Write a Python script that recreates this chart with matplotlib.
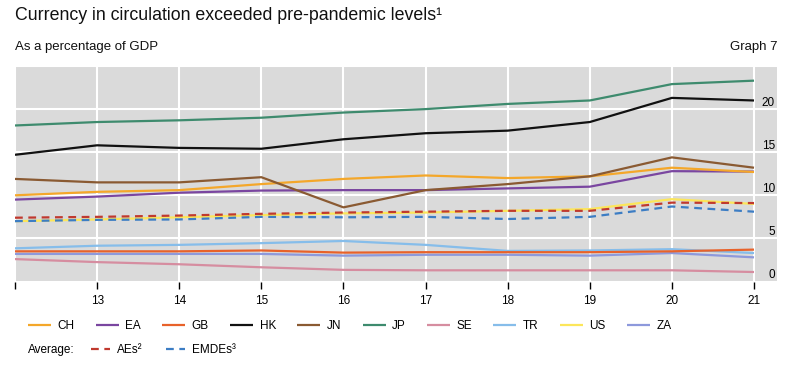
import matplotlib
matplotlib.use("Agg")
import matplotlib.pyplot as plt
import matplotlib.transforms as mtransforms

plt.rcParams['font.family'] = ['Liberation Sans', 'DejaVu Sans']

years = [12, 13, 14, 15, 16, 17, 18, 19, 20, 21]
xtick_labels = ['', '13', '14', '15', '16', '17', '18', '19', '20', '21']

CH = [10.0, 10.4, 10.6, 11.3, 11.9, 12.3, 12.0, 12.2, 13.2, 12.7]
EA = [9.5, 9.85, 10.3, 10.55, 10.6, 10.6, 10.8, 11.0, 12.8, 12.75]
GB = [3.5, 3.5, 3.5, 3.6, 3.35, 3.4, 3.4, 3.4, 3.5, 3.7]
HK = [14.7, 15.8, 15.5, 15.4, 16.5, 17.2, 17.5, 18.5, 21.3, 21.0]
JN = [11.9, 11.5, 11.5, 12.1, 8.6, 10.6, 11.3, 12.2, 14.4, 13.2]
JP = [18.1, 18.5, 18.7, 19.0, 19.6, 20.0, 20.6, 21.0, 22.9, 23.3]
SE = [2.6, 2.25, 2.0, 1.65, 1.35, 1.3, 1.3, 1.3, 1.3, 1.1]
TR = [3.85, 4.15, 4.25, 4.45, 4.7, 4.25, 3.55, 3.6, 3.75, 3.3]
US = [7.0, 7.2, 7.45, 7.7, 7.9, 8.0, 8.2, 8.4, 9.55, 9.0]
ZA = [3.2, 3.2, 3.2, 3.2, 3.0, 3.1, 3.1, 3.0, 3.3, 2.8]
AEs = [7.4, 7.5, 7.65, 7.85, 8.0, 8.1, 8.2, 8.2, 9.15, 9.1]
EMDEs = [7.0, 7.15, 7.2, 7.5, 7.45, 7.5, 7.25, 7.5, 8.7, 8.1]

yticks = [0, 5, 10, 15, 20, 25]
ytick_labels = ['0', '5', '10', '15', '20', '']

countries = [
    ('CH', CH, '#F4A72A'),
    ('EA', EA, '#7A46A0'),
    ('GB', GB, '#E8622A'),
    ('HK', HK, '#111111'),
    ('JN', JN, '#8A5A32'),
    ('JP', JP, '#3E8B6E'),
    ('SE', SE, '#D68DA0'),
    ('TR', TR, '#86BDEA'),
    ('US', US, '#FCE65A'),
    ('ZA', ZA, '#8D99DC'),
]
averages = [
    ('AEs²', AEs, '#C0392E'),
    ('EMDEs³', EMDEs, '#3C7DC4'),
]

W, H = 810, 366
fig = plt.figure(figsize=(W / 100, H / 100), dpi=100)
ax = fig.add_axes([15 / W, 1 - 281.5 / H, (777 - 15) / W, (281.5 - 66) / H])
ax.set_facecolor('#DADADA')
for s in ax.spines.values():
    s.set_visible(False)

draw_order = ['SE', 'ZA', 'TR', 'GB', 'US', 'EA', 'CH', 'JN', 'JP', 'HK']
handles = {}
for name, vals, col in countries:
    z = 2 + draw_order.index(name) * 0.1
    ln, = ax.plot(years, vals, color=col, lw=1.6, zorder=z, solid_capstyle='butt')
    handles[name] = ln
avg_handles = []
for name, vals, col in averages:
    ln, = ax.plot(years, vals, color=col, lw=1.6, ls=(0, (3.5, 2.5)), zorder=4)
    avg_handles.append(ln)

ax.set_xlim(12, 21.28)
ax.set_ylim(0, 25)
ax.set_xticks(years)
ax.set_xticklabels(xtick_labels)
ax.set_yticks(yticks)
ax.set_yticklabels(ytick_labels)
ax.grid(True, color='white', lw=1.5, zorder=1)
ax.set_axisbelow(True)

ax.tick_params(axis='x', direction='out', length=5, width=1, color='black',
               pad=5, labelsize=8.5, labelcolor='black')
ax.tick_params(axis='y', length=0, left=False, right=False, labelleft=False,
               labelright=True, pad=-1.5, labelsize=8.5)
off = mtransforms.ScaledTranslation(0, 8 / 100, fig.dpi_scale_trans)
for t in ax.get_yticklabels():
    t.set_horizontalalignment('right')
    t.set_transform(t.get_transform() + off)

# Titles
fig.text(15 / W, 1 - 15 / H, 'Currency in circulation exceeded pre-pandemic levels¹',
         fontsize=12.8, va='center', ha='left', color='#111111')
fig.text(15 / W, 1 - 47 / H, 'As a percentage of GDP', fontsize=9.5,
         va='center', ha='left', color='#111111')
fig.text(778 / W, 1 - 47 / H, 'Graph 7', fontsize=9.5, va='center', ha='right',
         color='#111111')

# Legend row 1
leg1 = fig.legend([handles[n] for n, _, _ in countries], [n for n, _, _ in countries],
                  loc='center left', bbox_to_anchor=(28 / W, 1 - 326 / H), ncol=10,
                  frameon=False, fontsize=8.5, handlelength=1.95, handletextpad=0.55,
                  columnspacing=1.8, borderaxespad=0, borderpad=0)
# Legend row 2
fig.text(28 / W, 1 - 350 / H, 'Average:', fontsize=8.5, va='center', ha='left')
leg2 = fig.legend(avg_handles, [n for n, _, _ in averages],
                  loc='center left', bbox_to_anchor=(91 / W, 1 - 350 / H), ncol=2,
                  frameon=False, fontsize=8.5, handlelength=1.6, handletextpad=0.6,
                  columnspacing=2.0, borderaxespad=0, borderpad=0)

fig.savefig('out.png', dpi=100)
